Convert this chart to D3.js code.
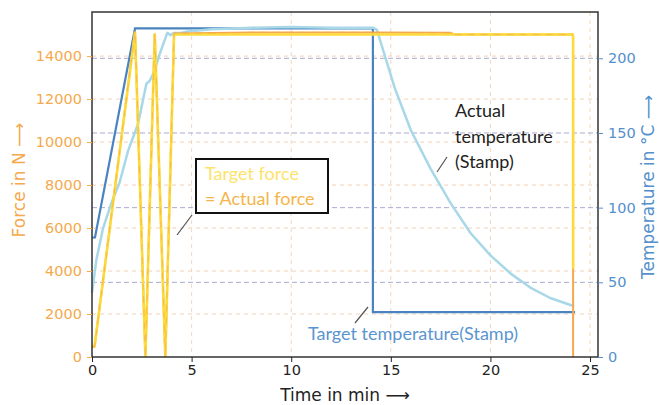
<!DOCTYPE html>
<html>
<head>
<meta charset="utf-8">
<script src="https://cdn.jsdelivr.net/npm/d3@7"></script>
<style>
    body { margin: 0; background: #fff; }
</style>
</head>
<body>
<svg id="chart" width="659" height="405"></svg>
<script>

// time in min
var forceTicks = [0, 2000, 4000, 6000, 8000, 10000, 12000, 14000];
var tempTicks = [0, 50, 100, 150, 200];
var timeTicks = [0, 5, 10, 15, 20, 25];

// [time, force N]
var targetForce = [
    [0, 500], [0.13, 500], [2.16, 15100], [2.68, 0], [3.15, 15050], [3.68, 0],
    [4.12, 15000], [10, 15000], [18, 15000], [24.12, 15000], [24.15, 14900], [24.15, 4100]
];
var actualForce = [
    [0, 450], [0.13, 500], [2.16, 15150], [2.68, 0], [3.15, 15050], [3.68, 0],
    [4.12, 15050], [8, 15100], [14, 15100], [18, 15080], [18.2, 15000], [24.12, 15000],
    [24.15, 14900], [24.15, 0]
];

// [time, temperature °C]
var targetTemp = [
    [0, 80], [0.15, 80], [2.16, 220], [14.1, 220], [14.1, 30], [24.25, 30]
];
var actualTemp = [
    [0, 43], [0.22, 65], [0.55, 86], [0.97, 103], [1.39, 117], [1.81, 138],
    [2.31, 156], [2.73, 183], [2.9, 185], [3.15, 192], [3.4, 203], [3.78, 217],
    [3.95, 215.5], [4.12, 217], [4.48, 217], [4.78, 218], [6, 219.5], [8, 220.5],
    [10, 221], [12, 220.5], [14.1, 220.5], [14.3, 219], [15.2, 180], [16, 152],
    [17, 126], [18, 103], [19, 83], [20, 68], [21, 56], [22, 46.5], [23, 39.5],
    [24.2, 34]
];

var width = 659, height = 405;
var margin = { top: 12, right: 61, bottom: 48, left: 92 };

var orange = '#f5a94c', yellow = '#fcdc3c', blue = '#5490cb';
var axisFont = "'DejaVu Sans', sans-serif";
var noteFont = "Lato, 'Open Sans', sans-serif";

var svg = d3.select('#chart');

var x = d3.scaleLinear()
    .domain([0, 25.4])
    .range([margin.left, width - margin.right]);

var yF = d3.scaleLinear()
    .domain([0, 16050])
    .range([height - margin.bottom, margin.top]);

var yT = d3.scaleLinear()
    .domain([0, 231])
    .range([height - margin.bottom, margin.top]);

// grid
svg.append('g')
    .selectAll('line')
    .data(timeTicks.slice(1))
    .enter()
    .append('line')
        .attr('x1', function(d) { return x(d); })
        .attr('x2', function(d) { return x(d); })
        .attr('y1', margin.top)
        .attr('y2', height - margin.bottom)
        .attr('stroke', '#f0d8c4')
        .attr('stroke-width', 1)
        .attr('stroke-dasharray', '4,4');

svg.append('g')
    .selectAll('line')
    .data(forceTicks.slice(1))
    .enter()
    .append('line')
        .attr('x1', margin.left)
        .attr('x2', width - margin.right)
        .attr('y1', function(d) { return yF(d); })
        .attr('y2', function(d) { return yF(d); })
        .attr('stroke', '#f2d2b6')
        .attr('stroke-width', 1)
        .attr('stroke-dasharray', '4,4');

svg.append('g')
    .selectAll('line')
    .data(tempTicks.slice(1))
    .enter()
    .append('line')
        .attr('x1', margin.left)
        .attr('x2', width - margin.right)
        .attr('y1', function(d) { return yT(d); })
        .attr('y2', function(d) { return yT(d); })
        .attr('stroke', '#a9a9cf')
        .attr('stroke-width', 1)
        .attr('stroke-dasharray', '5,3');

// lines
var lineF = d3.line()
    .x(function(d) { return x(d[0]); })
    .y(function(d) { return yF(d[1]); });

var lineT = d3.line()
    .x(function(d) { return x(d[0]); })
    .y(function(d) { return yT(d[1]); });

svg.append('path')
    .attr('d', lineT(targetTemp))
    .attr('fill', 'none')
    .attr('stroke', '#4a84c0')
    .attr('stroke-width', 2.2);

svg.append('path')
    .attr('d', lineT(actualTemp))
    .attr('fill', 'none')
    .attr('stroke', '#a8d8e8')
    .attr('stroke-width', 2.5)
    .attr('stroke-linejoin', 'round');

svg.append('path')
    .attr('d', lineF(actualForce))
    .attr('fill', 'none')
    .attr('stroke', orange)
    .attr('stroke-width', 2);

svg.append('path')
    .attr('d', lineF(targetForce))
    .attr('fill', 'none')
    .attr('stroke', yellow)
    .attr('stroke-width', 2.6);

svg.append('path')
    .attr('d', lineF(actualForce.slice(0, 12)))
    .attr('fill', 'none')
    .attr('stroke', orange)
    .attr('stroke-opacity', 0.6)
    .attr('stroke-width', 1.1)
    .attr('stroke-dasharray', '7,6');

// frame
svg.append('rect')
    .attr('x', margin.left)
    .attr('y', margin.top)
    .attr('width', width - margin.left - margin.right)
    .attr('height', height - margin.top - margin.bottom)
    .attr('fill', 'none')
    .attr('stroke', '#333')
    .attr('stroke-width', 1.5);

// axes
var gx = svg.append('g')
    .attr('transform', 'translate(0,' + (height - margin.bottom) + ')')
    .call(d3.axisBottom(x).tickValues(timeTicks).tickFormat(d3.format('d')).tickSize(5).tickPadding(3));
gx.select('.domain').remove();
gx.selectAll('line').attr('stroke', '#222');
gx.selectAll('text').attr('fill', '#222').style('font-family', axisFont).style('font-size', '14.5px');

var gl = svg.append('g')
    .attr('transform', 'translate(' + margin.left + ',0)')
    .call(d3.axisLeft(yF).tickValues(forceTicks).tickFormat(d3.format('d')).tickSize(5).tickPadding(5));
gl.select('.domain').remove();
gl.selectAll('line').attr('stroke', orange);
gl.selectAll('text').attr('fill', orange).style('font-family', axisFont).style('font-size', '14.5px');

var gr = svg.append('g')
    .attr('transform', 'translate(' + (width - margin.right) + ',0)')
    .call(d3.axisRight(yT).tickValues(tempTicks).tickFormat(d3.format('d')).tickSize(5).tickPadding(5));
gr.select('.domain').remove();
gr.selectAll('line').attr('stroke', blue);
gr.selectAll('text').attr('fill', blue).style('font-family', axisFont).style('font-size', '14.5px');

// axis titles
svg.append('text')
    .attr('x', 345)
    .attr('y', 401)
    .attr('text-anchor', 'middle')
    .attr('fill', '#222')
    .style('font-family', axisFont)
    .style('font-size', '17px')
    .text('Time in min \u27f6');

svg.append('text')
    .attr('transform', 'translate(25,180) rotate(-90)')
    .attr('text-anchor', 'middle')
    .attr('fill', orange)
    .style('font-family', axisFont)
    .style('font-size', '17px')
    .text('Force in N \u27f6');

svg.append('text')
    .attr('transform', 'translate(654,187) rotate(-90)')
    .attr('text-anchor', 'middle')
    .attr('fill', blue)
    .style('font-family', axisFont)
    .style('font-size', '17px')
    .text('Temperature in \u00b0C \u27f6');

// annotations
svg.append('rect')
    .attr('x', 196)
    .attr('y', 159)
    .attr('width', 132)
    .attr('height', 54)
    .attr('fill', '#fff')
    .attr('stroke', '#111')
    .attr('stroke-width', 2);

svg.append('text')
    .attr('x', 205)
    .attr('y', 180)
    .attr('fill', '#fde36a')
    .style('font-family', noteFont)
    .style('font-size', '18px')
    .text('Target force');

svg.append('text')
    .attr('x', 205)
    .attr('y', 205)
    .attr('fill', '#f6b54a')
    .style('font-family', noteFont)
    .style('font-size', '18px')
    .text('= Actual force');

var pointers = [
    [192, 215, 177, 235],
    [447, 157, 437, 172],
    [368, 307, 355, 323]
];
svg.append('g')
    .selectAll('line')
    .data(pointers)
    .enter()
    .append('line')
        .attr('x1', function(d) { return d[0]; })
        .attr('y1', function(d) { return d[1]; })
        .attr('x2', function(d) { return d[2]; })
        .attr('y2', function(d) { return d[3]; })
        .attr('stroke', '#555')
        .attr('stroke-width', 1.2);

var tempLabel = ['Actual', 'temperature', '(Stamp)'];
svg.append('g')
    .selectAll('text')
    .data(tempLabel)
    .enter()
    .append('text')
        .attr('x', 455)
        .attr('y', function(d, i) { return 117 + i * 25.5; })
        .attr('fill', '#222')
        .style('font-family', noteFont)
        .style('font-size', '18px')
        .text(function(d) { return d; });

svg.append('text')
    .attr('x', 308)
    .attr('y', 340)
    .attr('fill', '#5b95cf')
    .style('font-family', noteFont)
    .style('font-size', '18px')
    .text('Target temperature(Stamp)');

</script>
</body>
</html>
